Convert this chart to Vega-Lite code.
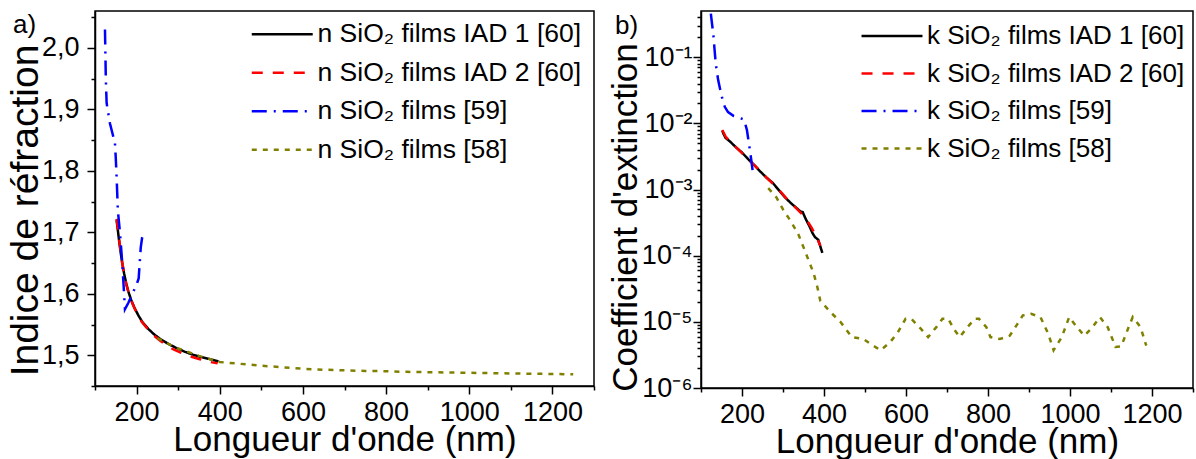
{
  "$schema": "https://vega.github.io/schema/vega-lite/v6.json",
  "background": "white",
  "padding": {"left": 5, "top": 10, "right": 2, "bottom": 2},
  "bounds": "flush",
  "spacing": 107,
  "config": {
    "font": "Liberation Sans",
    "view": {"stroke": "black", "strokeWidth": 1.5},
    "axis": {"grid": false, "domainColor": "black", "domainWidth": 1.5, "tickColor": "black", "tickWidth": 1.5, "labelColor": "black", "labelFontSize": 27, "labelFont": "Liberation Sans", "titleFont": "Liberation Sans", "titleFontSize": 35, "titleFontWeight": "normal", "titleColor": "black", "labelPadding": 6}
  },
  "datasets": {
    "n": [
      {"s": "SiO₂ films IAD 1 [60]", "wl": 152, "v": 1.72},
      {"s": "SiO₂ films IAD 1 [60]", "wl": 155, "v": 1.703},
      {"s": "SiO₂ films IAD 1 [60]", "wl": 158, "v": 1.686},
      {"s": "SiO₂ films IAD 1 [60]", "wl": 162, "v": 1.666},
      {"s": "SiO₂ films IAD 1 [60]", "wl": 166, "v": 1.648},
      {"s": "SiO₂ films IAD 1 [60]", "wl": 170, "v": 1.633},
      {"s": "SiO₂ films IAD 1 [60]", "wl": 175, "v": 1.617},
      {"s": "SiO₂ films IAD 1 [60]", "wl": 180, "v": 1.604},
      {"s": "SiO₂ films IAD 1 [60]", "wl": 187, "v": 1.59},
      {"s": "SiO₂ films IAD 1 [60]", "wl": 195, "v": 1.577},
      {"s": "SiO₂ films IAD 1 [60]", "wl": 205, "v": 1.564},
      {"s": "SiO₂ films IAD 1 [60]", "wl": 215, "v": 1.553},
      {"s": "SiO₂ films IAD 1 [60]", "wl": 228, "v": 1.543},
      {"s": "SiO₂ films IAD 1 [60]", "wl": 242, "v": 1.534},
      {"s": "SiO₂ films IAD 1 [60]", "wl": 258, "v": 1.526},
      {"s": "SiO₂ films IAD 1 [60]", "wl": 275, "v": 1.519},
      {"s": "SiO₂ films IAD 1 [60]", "wl": 295, "v": 1.512},
      {"s": "SiO₂ films IAD 1 [60]", "wl": 315, "v": 1.506},
      {"s": "SiO₂ films IAD 1 [60]", "wl": 335, "v": 1.501},
      {"s": "SiO₂ films IAD 1 [60]", "wl": 355, "v": 1.497},
      {"s": "SiO₂ films IAD 1 [60]", "wl": 375, "v": 1.494},
      {"s": "SiO₂ films IAD 1 [60]", "wl": 397, "v": 1.49},
      {"s": "SiO₂ films IAD 2 [60]", "wl": 152, "v": 1.722},
      {"s": "SiO₂ films IAD 2 [60]", "wl": 156, "v": 1.70},
      {"s": "SiO₂ films IAD 2 [60]", "wl": 160, "v": 1.678},
      {"s": "SiO₂ films IAD 2 [60]", "wl": 165, "v": 1.652},
      {"s": "SiO₂ films IAD 2 [60]", "wl": 170, "v": 1.632},
      {"s": "SiO₂ films IAD 2 [60]", "wl": 176, "v": 1.613},
      {"s": "SiO₂ films IAD 2 [60]", "wl": 183, "v": 1.597},
      {"s": "SiO₂ films IAD 2 [60]", "wl": 190, "v": 1.584},
      {"s": "SiO₂ films IAD 2 [60]", "wl": 200, "v": 1.569},
      {"s": "SiO₂ films IAD 2 [60]", "wl": 212, "v": 1.555},
      {"s": "SiO₂ films IAD 2 [60]", "wl": 225, "v": 1.544},
      {"s": "SiO₂ films IAD 2 [60]", "wl": 240, "v": 1.533},
      {"s": "SiO₂ films IAD 2 [60]", "wl": 256, "v": 1.524},
      {"s": "SiO₂ films IAD 2 [60]", "wl": 272, "v": 1.516},
      {"s": "SiO₂ films IAD 2 [60]", "wl": 290, "v": 1.509},
      {"s": "SiO₂ films IAD 2 [60]", "wl": 310, "v": 1.503},
      {"s": "SiO₂ films IAD 2 [60]", "wl": 330, "v": 1.498},
      {"s": "SiO₂ films IAD 2 [60]", "wl": 350, "v": 1.494},
      {"s": "SiO₂ films IAD 2 [60]", "wl": 370, "v": 1.49},
      {"s": "SiO₂ films IAD 2 [60]", "wl": 385, "v": 1.488},
      {"s": "SiO₂ films IAD 2 [60]", "wl": 395, "v": 1.487},
      {"s": "SiO₂ films [59]", "wl": 124, "v": 2.03},
      {"s": "SiO₂ films [59]", "wl": 126, "v": 1.95},
      {"s": "SiO₂ films [59]", "wl": 128, "v": 1.91},
      {"s": "SiO₂ films [59]", "wl": 136, "v": 1.877},
      {"s": "SiO₂ films [59]", "wl": 148, "v": 1.845},
      {"s": "SiO₂ films [59]", "wl": 150, "v": 1.82},
      {"s": "SiO₂ films [59]", "wl": 152, "v": 1.79},
      {"s": "SiO₂ films [59]", "wl": 155, "v": 1.735},
      {"s": "SiO₂ films [59]", "wl": 160, "v": 1.70},
      {"s": "SiO₂ films [59]", "wl": 165, "v": 1.655},
      {"s": "SiO₂ films [59]", "wl": 170, "v": 1.60},
      {"s": "SiO₂ films [59]", "wl": 172, "v": 1.575},
      {"s": "SiO₂ films [59]", "wl": 180, "v": 1.585},
      {"s": "SiO₂ films [59]", "wl": 190, "v": 1.60},
      {"s": "SiO₂ films [59]", "wl": 200, "v": 1.615},
      {"s": "SiO₂ films [59]", "wl": 205, "v": 1.625},
      {"s": "SiO₂ films [59]", "wl": 210, "v": 1.675},
      {"s": "SiO₂ films [59]", "wl": 213, "v": 1.69},
      {"s": "SiO₂ films [59]", "wl": 220, "v": 1.688},
      {"s": "SiO₂ films [59]", "wl": 229, "v": 1.69},
      {"s": "SiO₂ films [58]", "wl": 250, "v": 1.528},
      {"s": "SiO₂ films [58]", "wl": 275, "v": 1.519},
      {"s": "SiO₂ films [58]", "wl": 300, "v": 1.511},
      {"s": "SiO₂ films [58]", "wl": 325, "v": 1.505},
      {"s": "SiO₂ films [58]", "wl": 350, "v": 1.499},
      {"s": "SiO₂ films [58]", "wl": 375, "v": 1.494},
      {"s": "SiO₂ films [58]", "wl": 400, "v": 1.489},
      {"s": "SiO₂ films [58]", "wl": 450, "v": 1.486},
      {"s": "SiO₂ films [58]", "wl": 500, "v": 1.483},
      {"s": "SiO₂ films [58]", "wl": 550, "v": 1.4805},
      {"s": "SiO₂ films [58]", "wl": 600, "v": 1.478},
      {"s": "SiO₂ films [58]", "wl": 650, "v": 1.4765},
      {"s": "SiO₂ films [58]", "wl": 700, "v": 1.4755},
      {"s": "SiO₂ films [58]", "wl": 750, "v": 1.4745},
      {"s": "SiO₂ films [58]", "wl": 800, "v": 1.474},
      {"s": "SiO₂ films [58]", "wl": 850, "v": 1.473},
      {"s": "SiO₂ films [58]", "wl": 900, "v": 1.4725},
      {"s": "SiO₂ films [58]", "wl": 950, "v": 1.472},
      {"s": "SiO₂ films [58]", "wl": 1000, "v": 1.4715},
      {"s": "SiO₂ films [58]", "wl": 1050, "v": 1.471},
      {"s": "SiO₂ films [58]", "wl": 1100, "v": 1.4705},
      {"s": "SiO₂ films [58]", "wl": 1150, "v": 1.47},
      {"s": "SiO₂ films [58]", "wl": 1200, "v": 1.4695},
      {"s": "SiO₂ films [58]", "wl": 1250, "v": 1.469}
    ],
    "k": [
      {"s": "SiO₂ films IAD 1 [60]", "wl": 152, "v": 0.00776},
      {"s": "SiO₂ films IAD 1 [60]", "wl": 155, "v": 0.00692},
      {"s": "SiO₂ films IAD 1 [60]", "wl": 160, "v": 0.00603},
      {"s": "SiO₂ films IAD 1 [60]", "wl": 170, "v": 0.00537},
      {"s": "SiO₂ films IAD 1 [60]", "wl": 185, "v": 0.00437},
      {"s": "SiO₂ films IAD 1 [60]", "wl": 200, "v": 0.00363},
      {"s": "SiO₂ films IAD 1 [60]", "wl": 215, "v": 0.00288},
      {"s": "SiO₂ films IAD 1 [60]", "wl": 230, "v": 0.00234},
      {"s": "SiO₂ films IAD 1 [60]", "wl": 245, "v": 0.00186},
      {"s": "SiO₂ films IAD 1 [60]", "wl": 260, "v": 0.00151},
      {"s": "SiO₂ films IAD 1 [60]", "wl": 275, "v": 0.00126},
      {"s": "SiO₂ films IAD 1 [60]", "wl": 290, "v": 0.000977},
      {"s": "SiO₂ films IAD 1 [60]", "wl": 305, "v": 0.000759},
      {"s": "SiO₂ films IAD 1 [60]", "wl": 320, "v": 0.000617},
      {"s": "SiO₂ films IAD 1 [60]", "wl": 335, "v": 0.000513},
      {"s": "SiO₂ films IAD 1 [60]", "wl": 342, "v": 0.000468},
      {"s": "SiO₂ films IAD 1 [60]", "wl": 348, "v": 0.000457},
      {"s": "SiO₂ films IAD 1 [60]", "wl": 355, "v": 0.000363},
      {"s": "SiO₂ films IAD 1 [60]", "wl": 365, "v": 0.000275},
      {"s": "SiO₂ films IAD 1 [60]", "wl": 372, "v": 0.000219},
      {"s": "SiO₂ films IAD 1 [60]", "wl": 378, "v": 0.000191},
      {"s": "SiO₂ films IAD 1 [60]", "wl": 386, "v": 0.000174},
      {"s": "SiO₂ films IAD 1 [60]", "wl": 392, "v": 0.000132},
      {"s": "SiO₂ films IAD 1 [60]", "wl": 396, "v": 0.00011},
      {"s": "SiO₂ films IAD 2 [60]", "wl": 152, "v": 0.00794},
      {"s": "SiO₂ films IAD 2 [60]", "wl": 160, "v": 0.00631},
      {"s": "SiO₂ films IAD 2 [60]", "wl": 175, "v": 0.00501},
      {"s": "SiO₂ films IAD 2 [60]", "wl": 195, "v": 0.0038},
      {"s": "SiO₂ films IAD 2 [60]", "wl": 215, "v": 0.00288},
      {"s": "SiO₂ films IAD 2 [60]", "wl": 235, "v": 0.00219},
      {"s": "SiO₂ films IAD 2 [60]", "wl": 255, "v": 0.00162},
      {"s": "SiO₂ films IAD 2 [60]", "wl": 275, "v": 0.00123},
      {"s": "SiO₂ films IAD 2 [60]", "wl": 295, "v": 0.000912},
      {"s": "SiO₂ films IAD 2 [60]", "wl": 315, "v": 0.000661},
      {"s": "SiO₂ films IAD 2 [60]", "wl": 335, "v": 0.000501},
      {"s": "SiO₂ films IAD 2 [60]", "wl": 355, "v": 0.000372},
      {"s": "SiO₂ films IAD 2 [60]", "wl": 370, "v": 0.000263},
      {"s": "SiO₂ films IAD 2 [60]", "wl": 382, "v": 0.000191},
      {"s": "SiO₂ films IAD 2 [60]", "wl": 391, "v": 0.000141},
      {"s": "SiO₂ films [59]", "wl": 124, "v": 0.457},
      {"s": "SiO₂ films [59]", "wl": 127, "v": 0.316},
      {"s": "SiO₂ films [59]", "wl": 130, "v": 0.224},
      {"s": "SiO₂ films [59]", "wl": 133, "v": 0.132},
      {"s": "SiO₂ films [59]", "wl": 136, "v": 0.0794},
      {"s": "SiO₂ films [59]", "wl": 142, "v": 0.0447},
      {"s": "SiO₂ films [59]", "wl": 150, "v": 0.0263},
      {"s": "SiO₂ films [59]", "wl": 158, "v": 0.0178},
      {"s": "SiO₂ films [59]", "wl": 166, "v": 0.0148},
      {"s": "SiO₂ films [59]", "wl": 180, "v": 0.0129},
      {"s": "SiO₂ films [59]", "wl": 195, "v": 0.012},
      {"s": "SiO₂ films [59]", "wl": 205, "v": 0.0115},
      {"s": "SiO₂ films [59]", "wl": 212, "v": 0.00794},
      {"s": "SiO₂ films [59]", "wl": 218, "v": 0.00447},
      {"s": "SiO₂ films [59]", "wl": 223, "v": 0.00269},
      {"s": "SiO₂ films [59]", "wl": 226, "v": 0.00191},
      {"s": "SiO₂ films [58]", "wl": 264, "v": 0.00105},
      {"s": "SiO₂ films [58]", "wl": 284, "v": 0.000759},
      {"s": "SiO₂ films [58]", "wl": 300, "v": 0.000501},
      {"s": "SiO₂ films [58]", "wl": 318, "v": 0.000339},
      {"s": "SiO₂ films [58]", "wl": 337, "v": 0.000214},
      {"s": "SiO₂ films [58]", "wl": 355, "v": 0.000112},
      {"s": "SiO₂ films [58]", "wl": 375, "v": 0.0000537},
      {"s": "SiO₂ films [58]", "wl": 384, "v": 0.0000331},
      {"s": "SiO₂ films [58]", "wl": 391, "v": 0.0000209},
      {"s": "SiO₂ films [58]", "wl": 398, "v": 0.0000186},
      {"s": "SiO₂ films [58]", "wl": 417, "v": 0.0000138},
      {"s": "SiO₂ films [58]", "wl": 440, "v": 0.00001},
      {"s": "SiO₂ films [58]", "wl": 468, "v": 0.00000589},
      {"s": "SiO₂ films [58]", "wl": 496, "v": 0.0000055},
      {"s": "SiO₂ films [58]", "wl": 520, "v": 0.00000437},
      {"s": "SiO₂ films [58]", "wl": 538, "v": 0.00000372},
      {"s": "SiO₂ films [58]", "wl": 561, "v": 0.0000049},
      {"s": "SiO₂ films [58]", "wl": 580, "v": 0.00000692},
      {"s": "SiO₂ films [58]", "wl": 599, "v": 0.0000111},
      {"s": "SiO₂ films [58]", "wl": 613, "v": 0.0000111},
      {"s": "SiO₂ films [58]", "wl": 637, "v": 0.00000776},
      {"s": "SiO₂ films [58]", "wl": 654, "v": 0.00000589},
      {"s": "SiO₂ films [58]", "wl": 674, "v": 0.00000832},
      {"s": "SiO₂ films [58]", "wl": 689, "v": 0.0000111},
      {"s": "SiO₂ films [58]", "wl": 703, "v": 0.0000111},
      {"s": "SiO₂ films [58]", "wl": 717, "v": 0.00000776},
      {"s": "SiO₂ films [58]", "wl": 731, "v": 0.00000589},
      {"s": "SiO₂ films [58]", "wl": 750, "v": 0.00000832},
      {"s": "SiO₂ films [58]", "wl": 768, "v": 0.0000111},
      {"s": "SiO₂ films [58]", "wl": 778, "v": 0.0000111},
      {"s": "SiO₂ films [58]", "wl": 796, "v": 0.00000832},
      {"s": "SiO₂ films [58]", "wl": 806, "v": 0.00000589},
      {"s": "SiO₂ films [58]", "wl": 829, "v": 0.0000055},
      {"s": "SiO₂ films [58]", "wl": 853, "v": 0.00000617},
      {"s": "SiO₂ films [58]", "wl": 872, "v": 0.00000933},
      {"s": "SiO₂ films [58]", "wl": 885, "v": 0.0000125},
      {"s": "SiO₂ films [58]", "wl": 905, "v": 0.0000132},
      {"s": "SiO₂ films [58]", "wl": 928, "v": 0.0000118},
      {"s": "SiO₂ films [58]", "wl": 947, "v": 0.0000066},
      {"s": "SiO₂ films [58]", "wl": 960, "v": 0.00000372},
      {"s": "SiO₂ films [58]", "wl": 980, "v": 0.00000589},
      {"s": "SiO₂ films [58]", "wl": 998, "v": 0.0000118},
      {"s": "SiO₂ films [58]", "wl": 1017, "v": 0.00000832},
      {"s": "SiO₂ films [58]", "wl": 1035, "v": 0.00000617},
      {"s": "SiO₂ films [58]", "wl": 1055, "v": 0.00000832},
      {"s": "SiO₂ films [58]", "wl": 1073, "v": 0.0000118},
      {"s": "SiO₂ films [58]", "wl": 1092, "v": 0.00000832},
      {"s": "SiO₂ films [58]", "wl": 1111, "v": 0.00000417},
      {"s": "SiO₂ films [58]", "wl": 1125, "v": 0.00000427},
      {"s": "SiO₂ films [58]", "wl": 1143, "v": 0.00000832},
      {"s": "SiO₂ films [58]", "wl": 1153, "v": 0.0000118},
      {"s": "SiO₂ films [58]", "wl": 1172, "v": 0.00000832},
      {"s": "SiO₂ films [58]", "wl": 1186, "v": 0.00000437}
    ]
  },
  "resolve": {
    "scale": {"x": "independent", "y": "independent", "color": "shared", "strokeDash": "shared"},
    "legend": {"color": "independent", "strokeDash": "independent"}
  },
  "hconcat": [
    {
      "width": 499,
      "height": 375,
      "resolve": {"axis": {"x": "independent", "y": "independent"}},
      "layer": [
        {
          "data": {"name": "n"},
          "mark": {"type": "line", "strokeWidth": 2.5, "clip": true},
          "encoding": {
            "x": {"field": "wl", "type": "quantitative", "scale": {"domain": [100, 1300], "nice": false},
              "axis": {"title": "Longueur d'onde (nm)", "values": [100, 200, 300, 400, 500, 600, 700, 800, 900, 1000, 1100, 1200, 1300],
                "labelExpr": "datum.value % 200 == 0 ? format(datum.value, 'd') : ''",
                "tickSize": {"condition": {"test": "datum.value % 200 == 0", "value": 8}, "value": 4},
                "labelFlush": false, "labelPadding": 5, "titlePadding": -3}},
            "y": {"field": "v", "type": "quantitative", "scale": {"domain": [1.45, 2.06], "nice": false, "zero": false},
              "axis": {"title": "Indice de réfraction", "titleFontSize": 39, "titleY": 199, "values": [1.45, 1.5, 1.55, 1.6, 1.65, 1.7, 1.75, 1.8, 1.85, 1.9, 1.95, 2.0, 2.05],
                "labelExpr": "abs(datum.value*10 - round(datum.value*10)) < 0.001 ? replace(format(datum.value, '.1f'), '.', ',') : ''",
                "tickSize": {"condition": {"test": "abs(datum.value*10 - round(datum.value*10)) < 0.001", "value": 8}, "value": 4},
                "labelPadding": 8, "titlePadding": -4}},
            "color": {"field": "s", "type": "nominal",
              "scale": {"domain": ["SiO₂ films IAD 1 [60]", "SiO₂ films IAD 2 [60]", "SiO₂ films [59]", "SiO₂ films [58]"], "range": ["#000000", "#FF0000", "#0000FF", "#808000"]},
              "legend": {"orient": "none", "legendX": 174, "legendY": 10, "title": null, "padding": 0, "symbolType": "M-3,0H3", "symbolSize": 413, "symbolStrokeWidth": 2.5, "labelFontSize": 26.5, "labelFont": "Liberation Sans", "labelColor": "black", "labelOffset": 22, "rowPadding": 11.5, "labelExpr": "'n ' + datum.label", "labelLimit": 400}},
            "strokeDash": {"field": "s", "type": "nominal",
              "scale": {"domain": ["SiO₂ films IAD 1 [60]", "SiO₂ films IAD 2 [60]", "SiO₂ films [59]", "SiO₂ films [58]"], "range": [[1, 0], [11, 10], [15, 7, 2, 7], [5, 6]]},
              "legend": {"orient": "none", "legendX": 174, "legendY": 10, "title": null, "padding": 0, "symbolType": "M-3,0H3", "symbolSize": 413, "symbolStrokeWidth": 2.5, "labelFontSize": 26.5, "labelFont": "Liberation Sans", "labelColor": "black", "labelOffset": 22, "rowPadding": 11.5, "labelExpr": "'n ' + datum.label", "labelLimit": 400}}
          }
        },
        {
          "data": {"values": [{"lab": "a)"}]},
          "mark": {"type": "text", "fontSize": 26, "font": "Liberation Sans", "color": "black", "align": "left", "baseline": "alphabetic", "dx": -82, "dy": 22},
          "encoding": {
            "x": {"datum": 100, "type": "quantitative", "axis": null},
            "y": {"datum": 2.06, "type": "quantitative", "axis": null},
            "text": {"field": "lab", "type": "nominal"}
          }
        }
      ]
    },
    {
      "width": 492,
      "height": 377,
      "resolve": {"axis": {"x": "independent", "y": "independent"}},
      "layer": [
        {
          "data": {"name": "k"},
          "mark": {"type": "line", "strokeWidth": 2.5, "clip": true},
          "encoding": {
            "x": {"field": "wl", "type": "quantitative", "scale": {"domain": [100, 1300], "nice": false},
              "axis": {"title": "Longueur d'onde (nm)", "values": [100, 200, 300, 400, 500, 600, 700, 800, 900, 1000, 1100, 1200, 1300],
                "labelExpr": "datum.value % 200 == 0 ? format(datum.value, 'd') : ''",
                "tickSize": {"condition": {"test": "datum.value % 200 == 0", "value": 8}, "value": 4},
                "labelFlush": false, "labelPadding": 5, "titlePadding": -3}},
            "y": {"field": "v", "type": "quantitative", "scale": {"type": "log", "domain": [0.000001, 0.5], "nice": false},
              "axis": {"title": "Coefficient d'extinction", "titleFontSize": 35, "titleY": 206,
                "values": [0.000001, 0.000002, 0.000003, 0.000004, 0.000005, 0.000006, 0.000007, 0.000008, 0.000009, 0.00001, 0.00002, 0.00003, 0.00004, 0.00005, 0.00006, 0.00007, 0.00008, 0.00009, 0.0001, 0.0002, 0.0003, 0.0004, 0.0005, 0.0006, 0.0007, 0.0008, 0.0009, 0.001, 0.002, 0.003, 0.004, 0.005, 0.006, 0.007, 0.008, 0.009, 0.01, 0.02, 0.03, 0.04, 0.05, 0.06, 0.07, 0.08, 0.09, 0.1, 0.2, 0.3, 0.4],
                "labelExpr": "abs(log(datum.value)/LN10 - round(log(datum.value)/LN10)) < 0.001 ? '10⁻' + ['⁰','¹','²','³','⁴','⁵','⁶'][-round(log(datum.value)/LN10)] : ''",
                "tickSize": {"condition": {"test": "abs(log(datum.value)/LN10 - round(log(datum.value)/LN10)) < 0.001", "value": 8}, "value": 4},
                "labelPadding": 1, "titlePadding": -2}},
            "color": {"field": "s", "type": "nominal",
              "scale": {"domain": ["SiO₂ films IAD 1 [60]", "SiO₂ films IAD 2 [60]", "SiO₂ films [59]", "SiO₂ films [58]"], "range": ["#000000", "#FF0000", "#0000FF", "#808000"]},
              "legend": {"orient": "none", "legendX": 178, "legendY": 12, "title": null, "padding": 0, "symbolType": "M-3,0H3", "symbolSize": 413, "symbolStrokeWidth": 2.5, "labelFontSize": 26, "labelFont": "Liberation Sans", "labelColor": "black", "labelOffset": 22, "rowPadding": 11.5, "labelExpr": "'k ' + datum.label", "labelLimit": 400}},
            "strokeDash": {"field": "s", "type": "nominal",
              "scale": {"domain": ["SiO₂ films IAD 1 [60]", "SiO₂ films IAD 2 [60]", "SiO₂ films [59]", "SiO₂ films [58]"], "range": [[1, 0], [11, 10], [15, 7, 2, 7], [5, 6]]},
              "legend": {"orient": "none", "legendX": 178, "legendY": 12, "title": null, "padding": 0, "symbolType": "M-3,0H3", "symbolSize": 413, "symbolStrokeWidth": 2.5, "labelFontSize": 26, "labelFont": "Liberation Sans", "labelColor": "black", "labelOffset": 22, "rowPadding": 11.5, "labelExpr": "'k ' + datum.label", "labelLimit": 400}}
          }
        },
        {
          "data": {"values": [{"lab": "b)"}]},
          "mark": {"type": "text", "fontSize": 26, "font": "Liberation Sans", "color": "black", "align": "left", "baseline": "alphabetic", "dx": -86, "dy": 23},
          "encoding": {
            "x": {"datum": 100, "type": "quantitative", "axis": null},
            "y": {"datum": 0.5, "type": "quantitative", "axis": null},
            "text": {"field": "lab", "type": "nominal"}
          }
        }
      ]
    }
  ]
}
